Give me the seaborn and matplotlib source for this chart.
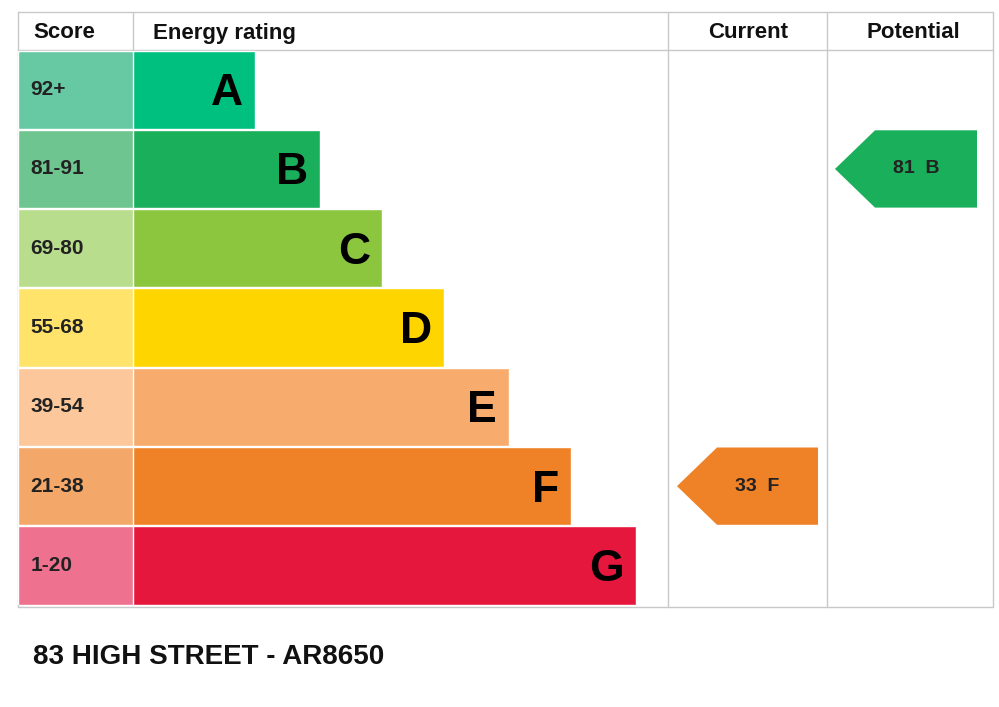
import matplotlib
matplotlib.use("Agg")
import matplotlib.pyplot as plt
import seaborn as sns
import pandas as pd

bands = ["A", "B", "C", "D", "E", "F", "G"]
scores = ["92+", "81-91", "69-80", "55-68", "39-54", "21-38", "1-20"]
bar_len = [122, 187, 249, 311, 376, 438, 503]
bar_colors = ["#00c07f", "#1aaf5a", "#8cc63f", "#ffd500", "#f7ab6c", "#ef8226", "#e5173d"]
score_colors = ["#66c9a4", "#6fc58f", "#b8dd8c", "#ffe36b", "#fcc79b", "#f3a86a", "#ee7290"]
current_value, current_band = 33, "F"
potential_value, potential_band = 81, "B"
title = "83 HIGH STREET - AR8650"

sns.set_theme(style="white")
plt.rcParams['font.family'] = ['Liberation Sans', 'DejaVu Sans']
W, H = 999, 707
fig = plt.figure(figsize=(W/100, H/100), dpi=100)
ax = fig.add_axes([0, 0, 1, 1]); ax.set_xlim(0, W); ax.set_ylim(H, 0); ax.axis("off")

top, rowh = 50, 79.3
def fa(x0, x1, y0, y1):
    return [x0/W, 1-y1/H, (x1-x0)/W, (y1-y0)/H]

df = pd.DataFrame({"band": bands, "len": bar_len, "score": scores, "one": [1]*7})
axb = fig.add_axes(fa(133, 668, top, top+7*rowh))
sns.barplot(data=df, x="len", y="band", hue="band", palette=bar_colors, orient="h",
            width=0.985, legend=False, ax=axb, saturation=1)
axb.set_xlim(0, 535); axb.set_ylim(6.5, -0.5); axb.axis("off")
for i, b in enumerate(bands):
    axb.text(bar_len[i]-12, i+0.05, b, ha="right", va="center", fontsize=32, fontweight="bold", color="black")
axs = fig.add_axes(fa(18, 133, top, top+7*rowh))
sns.barplot(data=df, x="one", y="band", hue="band", palette=score_colors, orient="h",
            width=0.985, legend=False, ax=axs, saturation=1)
axs.set_xlim(0, 1); axs.set_ylim(6.5, -0.5); axs.axis("off")
for i, s in enumerate(scores):
    axs.text(0.11, i, s, ha="left", va="center", fontsize=15, fontweight="bold", color="#222222")

lc = "#c8c8c8"
for x in [18, 668, 827, 993]:
    ax.plot([x, x], [12, 607], color=lc, lw=1)
ax.plot([133, 133], [12, 50], color=lc, lw=1)
for y in [12, 50, 607]:
    ax.plot([18, 993], [y, y], color=lc, lw=1)
for x, t in [(33, "Score"), (153, "Energy rating"), (748, "Current"), (913, "Potential")]:
    ax.text(x, 33, t, ha="center" if x > 600 else "left", va="center", fontsize=16, fontweight="bold", color="#111111")

def arrow(x0, x1, band, val, col):
    i = bands.index(band)
    y0 = top + i*rowh + 1; y1 = y0 + rowh - 2; ym = (y0+y1)/2
    ax.fill([x0, x0+40, x1, x1, x0+40], [ym, y0, y0, y1, y1], color=col, lw=0)
    ax.text((x0+x1)/2+10, ym, f"{val}  {band}", ha="center", va="center", fontsize=14, fontweight="bold", color="#222222")
arrow(677, 818, current_band, current_value, bar_colors[bands.index(current_band)])
arrow(835, 977, potential_band, potential_value, bar_colors[bands.index(potential_band)])

ax.text(33, 657, title, ha="left", va="center", fontsize=20, fontweight="bold", color="#111111")
fig.savefig("out.png", dpi=100)
